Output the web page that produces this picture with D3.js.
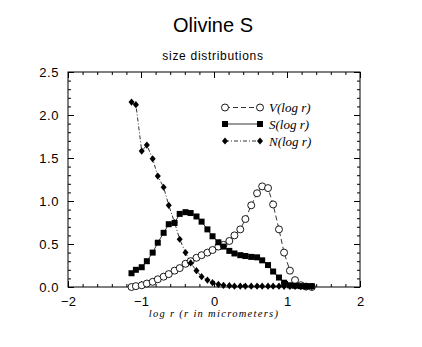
<!DOCTYPE html>
<html><head><meta charset="utf-8">
<script src="https://cdn.jsdelivr.net/npm/d3@7"></script>
<style>html,body{margin:0;padding:0;background:#fff;}svg{display:block;}</style>
</head><body>
<script>
const logR = [-1.13,-1.07,-0.99,-0.92,-0.84,-0.77,-0.69,-0.62,-0.54,-0.47,-0.39,-0.32,-0.24,-0.17,-0.09,-0.02,0.06,0.13,0.21,0.28,0.36,0.43,0.51,0.59,0.66,0.74,0.81,0.89,0.96,1.04,1.11,1.19,1.26,1.34];
const V = [0.00,0.01,0.02,0.04,0.06,0.09,0.12,0.15,0.19,0.22,0.27,0.30,0.34,0.37,0.40,0.43,0.47,0.49,0.535,0.60,0.67,0.79,0.95,1.09,1.17,1.15,0.96,0.67,0.40,0.19,0.08,0.02,0.005,0.0];
const S = [0.16,0.20,0.23,0.30,0.40,0.515,0.63,0.73,0.745,0.85,0.87,0.86,0.82,0.76,0.67,0.59,0.52,0.47,0.42,0.39,0.37,0.36,0.35,0.345,0.31,0.255,0.18,0.11,0.05,0.02,0.015,0.01,0.01,0.01];
const N = [2.15,2.12,1.58,1.65,1.49,1.29,1.16,0.95,0.75,0.555,0.40,0.28,0.19,0.12,0.08,0.05,0.03,0.02,0.015,0.01,0.01,0.01,0.01,0.01,0.01,0.01,0.01,0.01,0.008,0.007,0.006,0.005,0.005,0.005];
const xTicks = [-2,-1,0,1,2];
const yTicks = [0,0.5,1,1.5,2,2.5];
const legendLabels = ["V(log r)","S(log r)","N(log r)"];

const W=422,H=347;
const svg=d3.select("body").append("svg").attr("width",W).attr("height",H);
const x=d3.scaleLinear().domain([-2,2]).range([68,360]);
const y=d3.scaleLinear().domain([0,2.5]).range([287,72]);

svg.append("text").attr("x",213).attr("y",32).attr("text-anchor","middle")
  .style("font-family","Liberation Sans, Arial, sans-serif").style("font-size","20px").text("Olivine S");
svg.append("text").attr("x",213).attr("y",60).attr("text-anchor","middle")
  .style("font-family","Liberation Sans, Arial, sans-serif").style("font-size","12px").style("letter-spacing","0.7px").text("size distributions");

// frame
svg.append("rect").attr("x",x(-2)).attr("y",y(2.5)).attr("width",x(2)-x(-2)).attr("height",y(0)-y(2.5))
  .attr("fill","none").attr("stroke","#000").attr("stroke-width",1);

const tickFont="Liberation Sans, Arial, sans-serif";
const gB=svg.append("g").attr("transform",`translate(0,${y(0)})`)
  .call(d3.axisBottom(x).tickValues(d3.range(-2,2.001,0.2)).tickSize(-3).tickFormat(""));
const gB2=svg.append("g").attr("transform",`translate(0,${y(0)})`)
  .call(d3.axisBottom(x).tickValues(xTicks).tickSize(-6).tickPadding(10).tickFormat(d=>d<0?"\u2212"+Math.abs(d):d));
const gT=svg.append("g").attr("transform",`translate(0,${y(2.5)})`)
  .call(d3.axisTop(x).tickValues(d3.range(-2,2.001,0.2)).tickSize(-3).tickFormat(""));
const gT2=svg.append("g").attr("transform",`translate(0,${y(2.5)})`)
  .call(d3.axisTop(x).tickValues(xTicks).tickSize(-6).tickFormat(""));
const gL=svg.append("g").attr("transform",`translate(${x(-2)},0)`)
  .call(d3.axisLeft(y).tickValues(d3.range(0,2.501,0.1)).tickSize(-3).tickFormat(""));
const gL2=svg.append("g").attr("transform",`translate(${x(-2)},0)`)
  .call(d3.axisLeft(y).tickValues(yTicks).tickSize(-6).tickPadding(9).tickFormat(d3.format(".1f")));
const gR=svg.append("g").attr("transform",`translate(${x(2)},0)`)
  .call(d3.axisRight(y).tickValues(d3.range(0,2.501,0.1)).tickSize(-3).tickFormat(""));
const gR2=svg.append("g").attr("transform",`translate(${x(2)},0)`)
  .call(d3.axisRight(y).tickValues(yTicks).tickSize(-6).tickFormat(""));
svg.selectAll(".domain").remove();
svg.selectAll(".tick line").attr("stroke","#000");
gB2.selectAll("text").style("font-family",tickFont).style("font-size","13px").attr("dy","0.71em");
gL2.selectAll("text").style("font-family",tickFont).style("font-size","13px").style("letter-spacing","0.6px");

svg.append("text").attr("x",214).attr("y",317).attr("text-anchor","middle")
  .style("font-family","Liberation Serif, serif").style("font-style","italic").style("font-size","10.5px").style("letter-spacing","1.3px")
  .text("log r  (r in micrometers)");

const pts=(vals)=>logR.map((r,i)=>[r,vals[i]]);
const line=d3.line().x(d=>x(d[0])).y(d=>y(d[1]));
const series=[
  {vals:V,dash:"5,3",marker:"circle"},
  {vals:S,dash:null,marker:"square"},
  {vals:N,dash:"4,2,1,2",marker:"diamond"}
];
function marker(g,type,cx,cy){
  if(type==="circle") g.append("circle").attr("cx",cx).attr("cy",cy).attr("r",3.5).attr("fill","#fff").attr("stroke","#000").attr("stroke-width",0.9);
  else if(type==="square") g.append("rect").attr("x",cx-3).attr("y",cy-3).attr("width",6).attr("height",6).attr("fill","#000");
  else g.append("path").attr("d",`M${cx},${cy-3.6}L${cx+3},${cy}L${cx},${cy+3.6}L${cx-3},${cy}Z`).attr("fill","#000");
}
series.forEach(s=>{
  svg.append("path").datum(pts(s.vals)).attr("d",line).attr("fill","none").attr("stroke","#000")
    .attr("stroke-width",0.8).attr("stroke-dasharray",s.dash);
});
series.forEach(s=>{
  const g=svg.append("g");
  pts(s.vals).forEach(d=>marker(g,s.marker,x(d[0]),y(d[1])));
});

const legY=[107.5,124,141];
series.forEach((s,i)=>{
  const g=svg.append("g");
  g.append("line").attr("x1",225).attr("x2",260).attr("y1",legY[i]).attr("y2",legY[i])
    .attr("stroke","#000").attr("stroke-width",0.8).attr("stroke-dasharray",s.dash);
  marker(g,s.marker,225,legY[i]);
  marker(g,s.marker,260,legY[i]);
  g.append("text").attr("x",269).attr("y",legY[i]+4.5)
    .style("font-family","Liberation Serif, serif").style("font-style","italic").style("font-size","13px")
    .text(legendLabels[i]);
});
</script>
</body></html>
